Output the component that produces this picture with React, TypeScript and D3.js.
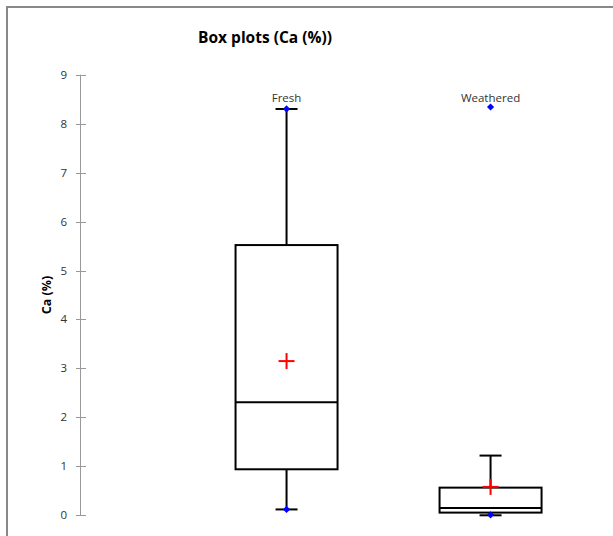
import React from "react";
import * as d3 from "d3";

const categories = ["Fresh", "Weathered"];
const minValues = [0.12, 0.01];
const lowerWhisker = [0.12, 0.0];
const q1Values = [0.94, 0.055];
const medianValues = [2.31, 0.15];
const q3Values = [5.52, 0.565];
const upperWhisker = [8.3, 1.22];
const maxValues = [8.3, 8.34];
const meanValues = [3.15, 0.58];
const yTicks = [0, 1, 2, 3, 4, 5, 6, 7, 8, 9];

const W = 613;
const H = 536;

export default function App() {
  const y = d3.scaleLinear().domain([0, 9]).range([515.3, 74.7]);
  const x = d3
    .scaleBand()
    .domain(categories)
    .range([80.5, 696.6])
    .paddingInner(0.5)
    .paddingOuter(0.76);
  const boxW = x.bandwidth();
  const capW = 22;
  const font = "'Open Sans', 'Noto Sans', sans-serif";
  const diamond = d3.symbol(d3.symbolSquare, 26)() as string;
  return (
    <svg
      width={W}
      height={H}
      style={{ position: "absolute", left: 0, top: 0 }}
    >
      <rect x={0} y={0} width={W} height={H} fill="#fff" />
      <rect x={7} y={7} width={W + 20} height={H + 20} fill="none" stroke="#888" strokeWidth={2} />
      <text
        x={265}
        y={43}
        textAnchor="middle"
        fontFamily={font}
        fontWeight="bold"
        fontSize={15.5}
        fill="#000"
      >
        Box plots (Ca (%))
      </text>
      <text
        transform={`translate(51,${295}) rotate(-90)`}
        textAnchor="middle"
        fontFamily={font}
        fontWeight="bold"
        fontSize={12.5}
        fill="#000"
      >
        Ca (%)
      </text>
      <line x1={80.5} x2={80.5} y1={y(9)} y2={y(0)} stroke="#999" strokeWidth={1} />
      {yTicks.map((t) => (
        <g key={t}>
          <line x1={76} x2={86} y1={Math.round(y(t)) + 0.5} y2={Math.round(y(t)) + 0.5} stroke="#999" strokeWidth={1} />
          <text
            x={67}
            y={y(t) + 4}
            textAnchor="end"
            fontFamily={font}
            fontSize={11.5}
            fill="#333"
          >
            {t}
          </text>
        </g>
      ))}
      {categories.map((c, i) => {
        const cx = (x(c) as number) + x.bandwidth() / 2;
        const x0 = cx - boxW / 2;
        const st = { stroke: "#000", strokeWidth: 2, fill: "none" } as const;
        return (
          <g key={c}>
            <line x1={cx} x2={cx} y1={y(upperWhisker[i])} y2={y(q3Values[i])} {...st} />
            <line x1={cx} x2={cx} y1={y(q1Values[i])} y2={y(lowerWhisker[i])} {...st} />
            <line x1={cx - capW / 2} x2={cx + capW / 2} y1={y(upperWhisker[i])} y2={y(upperWhisker[i])} {...st} />
            <line x1={cx - capW / 2} x2={cx + capW / 2} y1={y(lowerWhisker[i])} y2={y(lowerWhisker[i])} {...st} />
            <rect x={x0} y={y(q3Values[i])} width={boxW} height={y(q1Values[i]) - y(q3Values[i])} {...st} />
            <line x1={x0} x2={x0 + boxW} y1={y(medianValues[i])} y2={y(medianValues[i])} {...st} />
            <path d={diamond} transform={`translate(${cx},${y(minValues[i])}) rotate(45)`} fill="#0000ff" />
            <path d={diamond} transform={`translate(${cx},${y(maxValues[i])}) rotate(45)`} fill="#0000ff" />
            <line x1={cx - 8} x2={cx + 8} y1={y(meanValues[i])} y2={y(meanValues[i])} stroke="#ff0000" strokeWidth={2} />
            <line x1={cx} x2={cx} y1={y(meanValues[i]) - 8} y2={y(meanValues[i]) + 8} stroke="#ff0000" strokeWidth={2} />
            <text
              x={cx}
              y={102}
              textAnchor="middle"
              fontFamily={font}
              fontSize={11.5}
              fill="#333"
            >
              {c}
            </text>
          </g>
        );
      })}
    </svg>
  );
}
